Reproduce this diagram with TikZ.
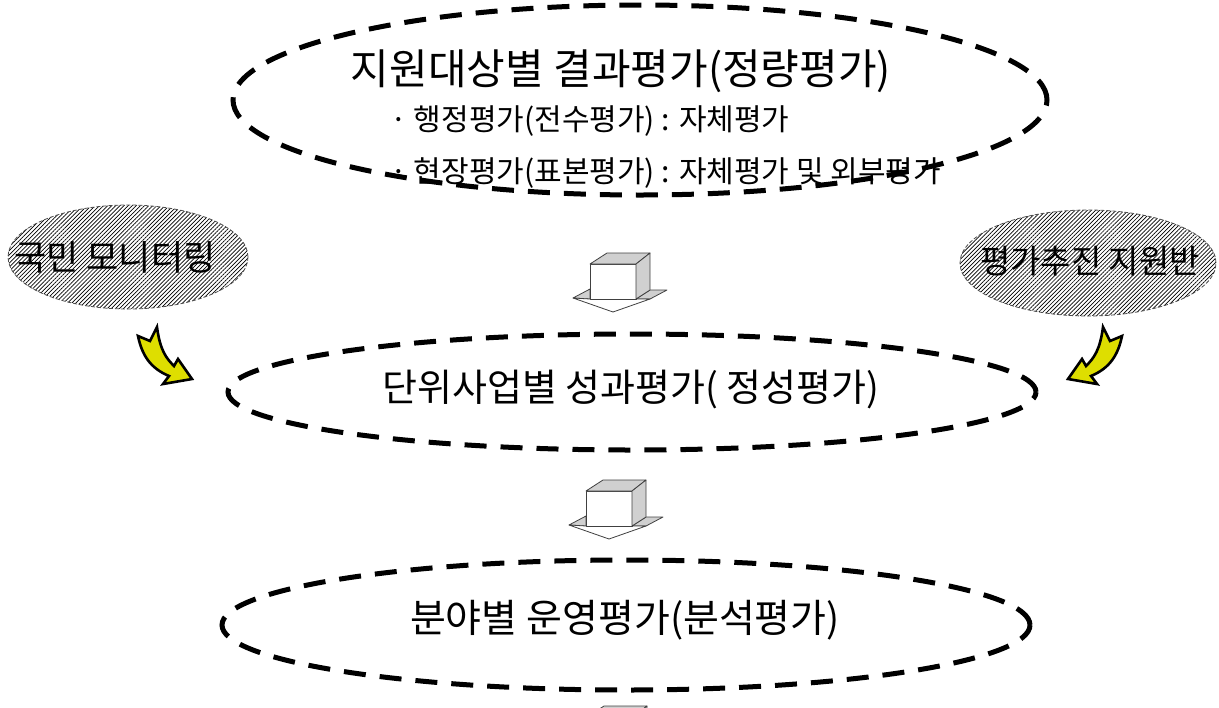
\documentclass[tikz,border=0pt]{standalone}
\usepackage{fontspec}
\setmainfont{Noto Sans CJK KR}
\usetikzlibrary{shapes.geometric}
\usetikzlibrary{patterns.meta}
\definecolor{boxgray}{RGB}{208,208,208}
\definecolor{arrowyellow}{RGB}{222,222,0}

\tikzset{
  stage/.style={draw, ellipse, line width=2.5pt, dash pattern=on 11pt off 7pt},
  helper/.style={draw=black!70, ellipse, line width=0.4pt, dash pattern=on 2pt off 1pt,
    pattern={Lines[angle=45,distance=1.45pt,line width=0.35pt]}},
  heading/.style={inner sep=0pt, font=\fontsize{20}{24}\selectfont},
  subline/.style={inner sep=0pt, anchor=west, font=\fontsize{15}{18}\selectfont},
  helpertext/.style={inner sep=0pt, font=\fontsize{16.5}{20}\selectfont},
  boxline/.style={draw=black!75, line width=0.4pt, line join=round},
  bentarrow/.style={draw=black, line width=1.3pt, fill=arrowyellow, line join=miter}
}

\begin{document}
\begin{tikzpicture}[x=0.5pt,y=-0.5pt]
      \useasboundingbox (0,0) rectangle (1219,707);
      \clip (0,0) rectangle (1219,707);
      % stage 1
      \node[stage, minimum width=407pt, minimum height=95pt] (result) at (640,100) {};
      \node[heading, font=\fontsize{21}{25}\selectfont] (resulttitle) at (621,71) {지원대상별 결과평가(정량평가)};
      \node[subline] (admin) at (390,121) {· 행정평가(전수평가) : 자체평가};
      \node[subline] (field) at (390,173) {· 현장평가(표본평가) : 자체평가 및 외부평가};
      % stage 2
      \node[stage, minimum width=404pt, minimum height=58pt] (outcome) at (632,392) {};
      \node[heading, font=\fontsize{19}{23}\selectfont] (outcometitle) at (631,390) {단위사업별 성과평가( 정성평가)};
      % stage 3
      \node[stage, minimum width=404pt, minimum height=65pt] (operation) at (626,625) {};
      \node[heading, font=\fontsize{19.5}{23}\selectfont] (operationtitle) at (625,620) {분야별 운영평가(분석평가)};
      % helpers
      \node[helper, minimum width=120pt, minimum height=52pt] (citizen) at (128,257) {};
      \node[helpertext, font=\fontsize{17.5}{21}\selectfont] (citizentext) at (115,257) {국민 모니터링};
      \node[helper, minimum width=128pt, minimum height=53pt] (support) at (1088,263) {};
      \node[helpertext] (supporttext) at (1090,261) {평가추진 지원반};
      % yellow arrows into stage 2
      \filldraw[bentarrow] (138,336) -- (150,341) -- (157,327)
        .. controls (160,350) and (166,358) .. (174,366) -- (178,359) -- (192,379)
        -- (163,384) -- (169,376) .. controls (150,368) and (142,355) .. (138,336) -- cycle;
      \begin{scope}[shift={(1260,0)}, xscale=-1]
        \filldraw[bentarrow] (138,336) -- (150,341) -- (157,327)
          .. controls (160,350) and (166,358) .. (174,366) -- (178,359) -- (192,379)
          -- (163,384) -- (169,376) .. controls (150,368) and (142,355) .. (138,336) -- cycle;
      \end{scope}
      % box arrows between stages
      \foreach \x/\y in {590/264, 586/491, 587/717} {
        \begin{scope}[shift={(\x,\y)}]
          \filldraw[boxline, fill=boxgray] (-17,34) -- (0,25) -- (0,35) -- cycle; % left wing
          \filldraw[boxline, fill=boxgray] (46,35) -- (60,26) -- (77,26) -- (60,35) -- cycle; % right wing
          \filldraw[boxline, fill=white] (-17,34) -- (23,48) -- (60,35) -- (0,35) -- cycle; % head
          \filldraw[boxline, fill=white] (0,0) rectangle (46,35); % front
          \filldraw[boxline, fill=boxgray] (0,0) -- (17,-11) -- (60,-11) -- (46,0) -- cycle; % top
          \filldraw[boxline, fill=boxgray] (46,0) -- (60,-11) -- (60,26) -- (46,35) -- cycle; % side
        \end{scope}
      }
\end{tikzpicture}
\end{document}
